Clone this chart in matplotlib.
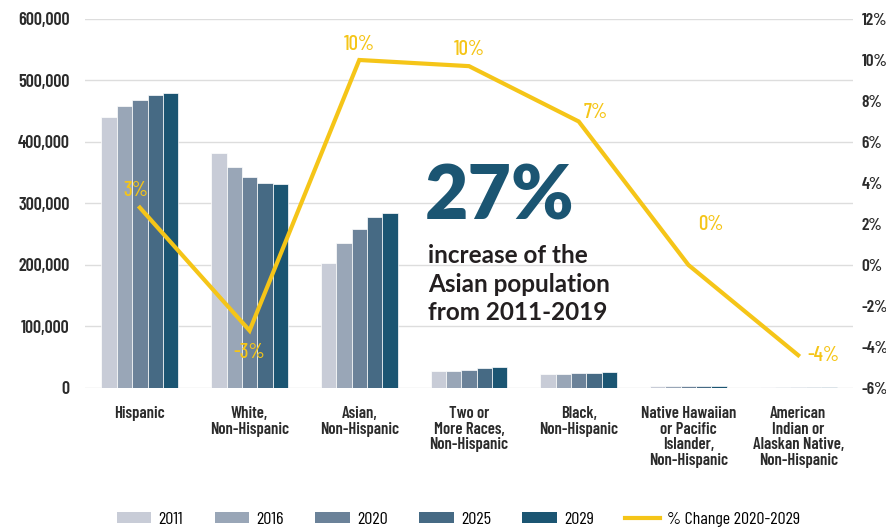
import numpy as np
import matplotlib
matplotlib.use('Agg')
import matplotlib.pyplot as plt
from matplotlib.patches import Patch
from matplotlib.lines import Line2D
from matplotlib.ticker import FuncFormatter

# Data
categories = ['Hispanic', 'White,\nNon-Hispanic', 'Asian,\nNon-Hispanic',
              'Two or\nMore Races,\nNon-Hispanic', 'Black,\nNon-Hispanic',
              'Native Hawaiian\nor Pacific\nIslander,\nNon-Hispanic',
              'American\nIndian or\nAlaskan Native,\nNon-Hispanic']
years = ['2011', '2016', '2020', '2025', '2029']
pop_2011 = [440000, 382000, 203000, 27000, 23000, 2500, 1500]
pop_2016 = [458000, 359000, 236000, 28000, 22000, 2800, 1600]
pop_2020 = [468000, 343000, 259000, 30000, 24000, 3000, 1600]
pop_2025 = [476000, 333000, 278000, 32500, 25000, 3000, 1500]
pop_2029 = [480000, 332000, 285000, 33500, 25500, 3000, 1500]
pct_change = [2.8, -3.2, 10.0, 9.7, 7.0, 0.0, -4.4]
pct_labels = ['3%', '-3%', '10%', '10%', '7%', '0%', '-4%']

bar_colors = ['#c8ccd7', '#99a6b7', '#6b8299', '#466a84', '#1b5572']
line_color = '#f5c518'
text_color = '#2b2b2b'
narrow = ['Barlow Condensed', 'Roboto Condensed', 'DejaVu Sans']
geo = ['Lato', 'DejaVu Sans']

fig = plt.figure(figsize=(8.87, 5.32), dpi=100)
ax = fig.add_axes([0.0958, 0.2707, 0.8659, 0.6936])

x = np.arange(len(categories))
width = 0.14
series = [pop_2011, pop_2016, pop_2020, pop_2025, pop_2029]
for i, vals in enumerate(series):
    ax.bar(x + (i - 2) * width, vals, width, color=bar_colors[i],
           edgecolor='white', linewidth=0.5, zorder=2)

ax.set_xlim(-0.5, len(categories) - 0.5)
ax.set_ylim(0, 600000)
ax.set_yticks(np.arange(0, 600001, 100000))
ax.yaxis.set_major_formatter(FuncFormatter(lambda v, p: f'{int(v):,}'))
ax.grid(axis='y', color='#dddddd', linewidth=1, zorder=0)
ax.set_axisbelow(True)
for s in ax.spines.values():
    s.set_visible(False)
ax.tick_params(axis='both', length=0)
ax.set_xticks(x)
ax.set_xticklabels(categories, fontsize=12, fontweight='semibold',
                   family=narrow, color=text_color, linespacing=1.05)
ax.tick_params(axis='x', pad=13)
for lbl in ax.get_yticklabels():
    lbl.set_family(narrow)
    lbl.set_fontweight('semibold')
    lbl.set_fontsize(13)
    lbl.set_color(text_color)
ax.tick_params(axis='y', pad=11)

# Right axis with % change line
ax2 = ax.twinx()
ax2.set_ylim(-6, 12)
ax2.set_yticks(np.arange(-6, 13, 2))
ax2.yaxis.set_major_formatter(FuncFormatter(lambda v, p: f'{int(v)}%'))
for s in ax2.spines.values():
    s.set_visible(False)
ax2.tick_params(axis='y', length=0, pad=6)
for lbl in ax2.get_yticklabels():
    lbl.set_family(narrow)
    lbl.set_fontweight('semibold')
    lbl.set_fontsize(12.5)
    lbl.set_color(text_color)
ax2.plot(x, pct_change, color=line_color, linewidth=3, zorder=3,
         solid_joinstyle='miter')

offsets = [(-4, 17), (0, -22), (0, 15), (0, 17), (17, 9), (22, 40), (25, 0)]
for xi, yi, lab, off in zip(x, pct_change, pct_labels, offsets):
    ax2.annotate(lab, (xi, yi), xytext=off, textcoords='offset pixels',
                 ha='center', va='center', color=line_color, fontsize=15,
                 fontweight='medium', family=narrow)

# Call-out text
fig.text(425 / 887, 1 - 197 / 532, '27%', fontsize=54, fontweight='heavy',
         color='#1b5572', family=geo, va='center', ha='left')
fig.text(428 / 887, 1 - 284 / 532,
         'increase of the\nAsian population\nfrom 2011-2019',
         fontsize=17.5, fontweight='bold', color='#231f20',
         family=geo, va='center', ha='left', linespacing=1.3)

# Legend
handles = [Patch(facecolor=c, label=y) for c, y in zip(bar_colors, years)]
handles.append(Line2D([0], [0], color=line_color, linewidth=3,
                      label='% Change 2020-2029'))
fig.legend(handles=handles, loc='center', bbox_to_anchor=(0.517, 0.024),
           ncol=6, frameon=False, handlelength=1.9, handleheight=0.6,
           columnspacing=1.75, handletextpad=0.4,
           prop={'family': narrow, 'size': 13})

fig.savefig('out.png', dpi=100)
